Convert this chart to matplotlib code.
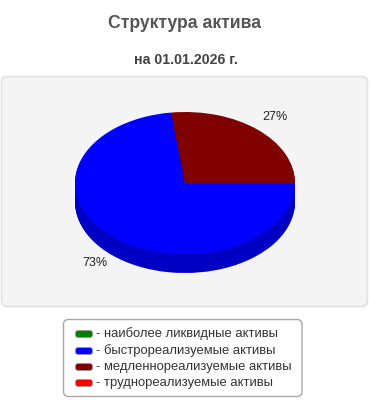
import numpy as np
import matplotlib
matplotlib.use("Agg")
import matplotlib.pyplot as plt
from matplotlib.patches import FancyBboxPatch

# ---- data ----
title = "Структура актива"
subtitle = "на 01.01.2026 г."
categories = ["наиболее ликвидные активы", "быстрореализуемые активы",
              "медленнореализуемые активы", "труднореализуемые активы"]
values = [0, 73, 27, 0]
colors = ["#008000", "#0000ff", "#800000", "#ff0000"]
side_colors = ["#006000", "#0000c4", "#600000", "#c00000"]

W, H = 370, 400
fig = plt.figure(figsize=(W / 100, H / 100), dpi=100)
fig.patch.set_facecolor("white")

bg = fig.add_axes([0, 0, 1, 1])
bg.set_xlim(0, W)
bg.set_ylim(H, 0)
bg.axis("off")

FONT = "Liberation Sans"

# panel
bg.add_patch(FancyBboxPatch((1.5, 76.5), 366, 230, boxstyle="round,pad=0,rounding_size=6",
                            facecolor="#f4f4f4", edgecolor="#e2e2e2", linewidth=1.2))
# titles
bg.text(185, 24, title, ha="center", va="center", fontsize=12.7, fontweight="bold",
        color="#555555", family=FONT)
bg.text(186, 60, subtitle, ha="center", va="center", fontsize=10.2, fontweight="bold",
        color="#444444", family=FONT)

# ---- 3D-looking pie ----
cx, cy, rx, ry, depth = 185, 183, 110, 71, 19
d = depth / ry
pax = fig.add_axes([(cx - rx) / W, (H - (cy + ry + depth)) / H,
                    2 * rx / W, (2 * ry + depth) / H])
steps = 20
for k in range(steps, 0, -1):
    pax.pie(values, colors=side_colors, startangle=0, counterclock=False,
            center=(0, -d * k / steps), radius=1,
            wedgeprops=dict(linewidth=0.6, edgecolor=None))
wedges, _ = pax.pie(values, colors=colors, startangle=0, counterclock=False,
                    center=(0, 0), radius=1, wedgeprops=dict(linewidth=0))
pax.set_aspect("auto")
pax.set_xlim(-1, 1)
pax.set_ylim(-1 - d, 1)
pax.axis("off")

total = sum(values)
for w, v in zip(wedges, values):
    if v == 0:
        continue
    mid = np.deg2rad((w.theta1 + w.theta2) / 2)
    r = 1.24
    x, y = r * np.cos(mid), r * np.sin(mid)
    if y < 0:
        y -= d * 0.75
    pax.text(x, y, f"{round(100 * v / total)}%", ha="center", va="center",
             fontsize=9.0, color="#222222", family=FONT, clip_on=False)

# ---- legend ----
bg.add_patch(FancyBboxPatch((63.5, 319.5), 238.5, 77, boxstyle="round,pad=0,rounding_size=5",
                            facecolor="white", edgecolor="#a8a8a8", linewidth=1.0))
row_y = [334, 351, 367, 383]
for yy, c, lab in zip(row_y, colors, categories):
    bg.add_patch(FancyBboxPatch((75.5, yy - 3.5), 17, 7, boxstyle="round,pad=0,rounding_size=2.5",
                                facecolor=c, edgecolor="#999999", linewidth=0.6))
    bg.text(96, yy, "- " + lab, ha="left", va="center", fontsize=9.4,
            color="#333333", family=FONT)

fig.savefig("out.png", dpi=100, facecolor="white")
